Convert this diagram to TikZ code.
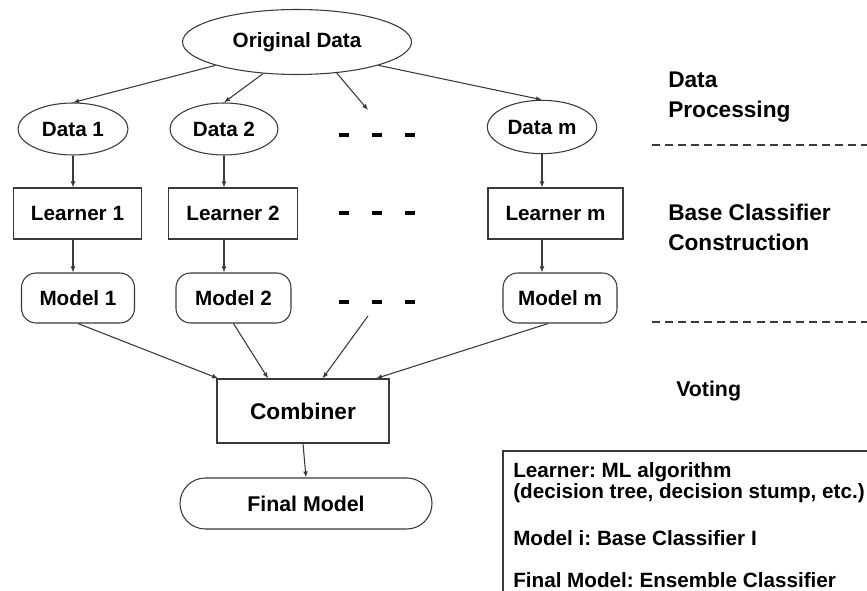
\documentclass[tikz,border=0pt]{standalone}
\usepackage{fontspec}
\setmainfont{Liberation Sans}
\usetikzlibrary{shapes.geometric,arrows.meta}

\definecolor{linec}{HTML}{3A3A3A}
\frenchspacing

\begin{document}
\begin{tikzpicture}[x=0.75pt,y=-0.75pt,
  lbl/.style={font=\bfseries\fontsize{15.5}{18}\selectfont, text=black},
  ell/.style={ellipse, draw=linec, line width=0.8pt, inner sep=0pt, lbl},
  boxnode/.style={rectangle, draw=linec, line width=0.8pt, inner sep=0pt, lbl},
  rbox/.style={rectangle, rounded corners=11pt, draw=linec, line width=0.8pt, inner sep=0pt, lbl},
  arr/.style={draw=linec, line width=0.8pt, -{Latex[length=4.5pt,width=3.6pt]}},
  sep/.style={draw=linec, line width=1.1pt, dash pattern=on 6pt off 3.8pt},
  side/.style={anchor=base west, align=left, inner sep=0pt, text=black,
               font=\bfseries\fontsize{17}{22.5}\selectfont},
  legtext/.style={anchor=base west, align=left, inner sep=0pt, text=black,
               font=\bfseries\fontsize{15.5}{15.75}\selectfont},
  gap/.style={inner sep=0pt}
]
\clip (0,0) rectangle (867,591);
\fill[white] (0,0) rectangle (867,591);

% source data
\node[ell, minimum width=171.75pt, minimum height=48.75pt] (orig) at (297,42) {Original Data};

% data subsets
\node[ell, minimum width=82.5pt, minimum height=39pt] (d1) at (73,129) {Data 1};
\node[ell, minimum width=81pt, minimum height=39pt] (d2) at (224,129) {Data 2};
\node[ell, minimum width=82pt, minimum height=40pt] (dm) at (542,127) {Data m};

% learners
\node[boxnode, minimum width=96pt, minimum height=38.25pt] (l1) at (77.5,213.5) {Learner 1};
\node[boxnode, minimum width=96.75pt, minimum height=38.25pt] (l2) at (233,213.5) {Learner 2};
\node[boxnode, minimum width=101.25pt, minimum height=38.25pt] (lm) at (555.5,213.5) {Learner m};

% models
\node[rbox, minimum width=84.75pt, minimum height=37.5pt] (m1) at (78,298) {Model 1};
\node[rbox, minimum width=86.25pt, minimum height=37.5pt] (m2) at (233.5,298) {Model 2};
\node[rbox, minimum width=85.5pt, minimum height=37.5pt] (mm) at (560,298) {Model m};

% ellipsis marks between columns
\node[gap] (g1) at (377,135) {\rule{7.5pt}{3pt}\hspace{17.6pt}\rule{7.5pt}{3pt}\hspace{17.6pt}\rule{7.5pt}{3pt}};
\node[gap] (g2) at (377,213) {\rule{7.5pt}{3pt}\hspace{17.6pt}\rule{7.5pt}{3pt}\hspace{17.6pt}\rule{7.5pt}{3pt}};
\node[gap] (g3) at (377,302) {\rule{7.5pt}{3pt}\hspace{17.6pt}\rule{7.5pt}{3pt}\hspace{17.6pt}\rule{7.5pt}{3pt}};
\coordinate (gin) at (368,110);
\coordinate (gout) at (368,316);

% combiner and result
\node[boxnode, minimum width=129pt, minimum height=48pt,
      font=\bfseries\fontsize{17}{20}\selectfont] (comb) at (303,411) {Combiner};
\node[rbox, rounded corners=19pt, minimum width=189pt, minimum height=38.25pt,
      font=\bfseries\fontsize{16}{19}\selectfont] (fin) at (306,503.5) {Final Model};

% arrows: splitting the data
\draw[arr] (orig.196) -- (d1.north);
\draw[arr] (orig.223) -- (d2.north);
\draw[arr] (orig.322) -- (gin);
\draw[arr] (orig.344) -- (dm.north);

% arrows: data -> learner -> model
\draw[arr] (d1.south) -- (d1.south |- l1.north);
\draw[arr] (d2.south) -- (d2.south |- l2.north);
\draw[arr] (dm.south) -- (dm.south |- lm.north);
\draw[arr] (l1.south -| d1) -- (m1.north -| d1);
\draw[arr] (l2.south -| d2) -- (m2.north -| d2);
\draw[arr] (lm.south -| dm) -- (mm.north -| dm);

% arrows: models -> combiner -> final model
\draw[arr] (m1.south) -- (comb.159);
\draw[arr] (m2.south) -- (comb.137.6);
\draw[arr] (gout) -- (comb.59.3);
\draw[arr] (mm.245) -- (comb.24.6);
\draw[arr] (comb.south) -- (fin.north);

% stage labels and separators (base = baseline of the last line)
\node[side] (stage1) at (668,118) {Data\\Processing};
\draw[sep] (652,145) -- (867,145);
\node[side] (stage2) at (668,251) {Base Classifier\\Construction};
\draw[sep] (652,322) -- (867,322);
\node[side, font=\bfseries\fontsize{16}{20}\selectfont] (stage3) at (676,397) {Voting};

% legend
\draw[draw=linec, line width=0.9pt] (503,451) rectangle (880,600);
\node[legtext] (leg1) at (513,498) {Learner: ML algorithm\\(decision tree, decision stump, etc.)};
\node[legtext] (leg2) at (513,545) {Model i: Base Classifier I};
\node[legtext] (leg3) at (513,587) {Final Model: Ensemble Classifier};
\end{tikzpicture}
\end{document}
